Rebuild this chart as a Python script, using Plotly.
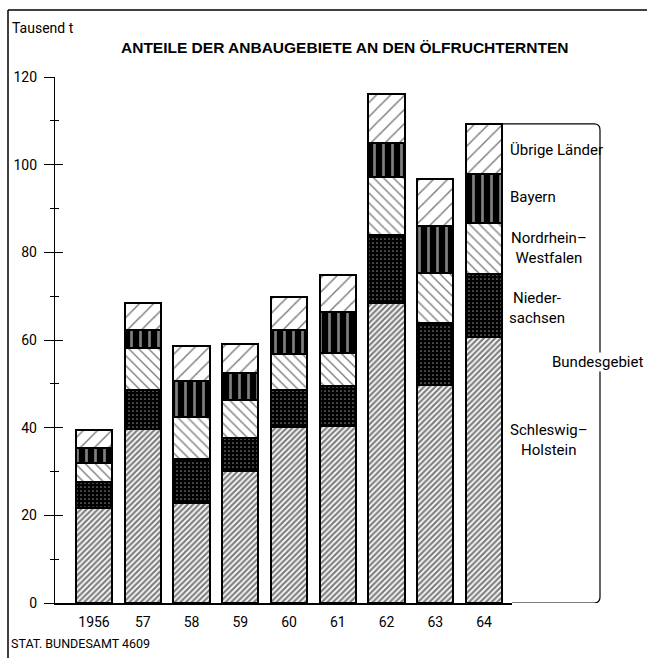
import plotly.graph_objects as go

# DATA (Tausend t)
years = ["1956", "57", "58", "59", "60", "61", "62", "63", "64"]
schleswig = [21.6, 39.6, 22.9, 30.2, 40.2, 40.4, 68.5, 49.7, 60.6]
nieder = [6.1, 9.0, 9.9, 7.4, 8.5, 9.1, 15.5, 14.1, 14.5]
nrw = [4.3, 9.5, 9.7, 8.6, 8.1, 7.5, 13.1, 11.4, 11.5]
bayern = [3.3, 4.2, 8.2, 6.2, 5.5, 9.5, 7.9, 10.9, 11.3]
uebrige = [4.2, 6.2, 8.0, 6.8, 7.4, 8.3, 11.1, 10.6, 11.4]

W, H = 647, 658
L, R, T, B = 55, 135, 77, 55
NARROW = "Roboto, Liberation Sans Narrow, sans-serif"


def px_x(x):
    return (x - L) / (W - L - R)


def px_y(y):
    return (H - B - y) / (H - T - B)


series = [
    ("Schleswig-Holstein", schleswig, dict(color="white", pattern=dict(shape="/", size=4, solidity=0.55, fgcolor="black", bgcolor="white"))),
    ("Niedersachsen", nieder, dict(color="black", pattern=dict(shape=".", size=4, solidity=0.15, fgcolor="white", bgcolor="black"))),
    ("Nordrhein-Westfalen", nrw, dict(color="white", pattern=dict(shape="\\", size=7, solidity=0.2, fgcolor="black", bgcolor="white"))),
    ("Bayern", bayern, dict(color="black", pattern=dict(shape="|", size=9, solidity=0.3, fgcolor="white", bgcolor="black"))),
    ("Übrige Länder", uebrige, dict(color="white", pattern=dict(shape="/", size=10, solidity=0.15, fgcolor="black", bgcolor="white"))),
]

fig = go.Figure()
for name, vals, marker in series:
    fig.add_trace(go.Bar(
        x=years, y=vals, name=name, width=0.74,
        marker=dict(line=dict(color="black", width=2), **marker),
        hovertemplate="%{x}: %{y} Tsd. t<extra>" + name + "</extra>",
    ))

# invisible trace so the crossing tick marks get drawn
fig.add_trace(go.Scatter(x=years, y=schleswig, yaxis="y2", mode="markers",
                         marker=dict(opacity=0), hoverinfo="skip", showlegend=False))

total_64 = sum(s[1][-1] for s in series)
r_y = 6 / 4.383
r_x = 6 / (W - L - R)
x_edge = px_x(600)
bracket = (
    f"M {px_x(503)},{total_64} L {x_edge - r_x},{total_64} "
    f"Q {x_edge},{total_64} {x_edge},{total_64 - r_y} "
    f"L {x_edge},{r_y} Q {x_edge},0 {x_edge - r_x},0 L 1,0"
)

fig.update_layout(
    width=W, height=H,
    margin=dict(l=L, r=R, t=T, b=B),
    paper_bgcolor="white", plot_bgcolor="white",
    barmode="stack", bargap=0, showlegend=False,
    font=dict(family=NARROW, color="black", size=14),
    xaxis=dict(range=[-0.8, 8.574], showline=True, linecolor="black", linewidth=2,
               ticks="", showgrid=False, zeroline=False, tickfont=dict(size=14),
               ticklabelstandoff=5),
    yaxis=dict(range=[0, 120], tickvals=list(range(0, 121, 20)), ticks="outside",
               ticklen=10, tickwidth=1.2, tickcolor="black",
               minor=dict(ticks="outside", ticklen=4, dtick=10, tickcolor="black", tickwidth=1.2),
               showline=True, linecolor="black", linewidth=1.4, showgrid=False,
               zeroline=False, tickfont=dict(size=14), ticklabelstandoff=4),
    yaxis2=dict(range=[0, 120], overlaying="y", side="left", anchor="x",
                tickvals=list(range(0, 121, 20)), ticks="inside", ticklen=8,
                tickwidth=1.2, tickcolor="black",
                minor=dict(ticks="inside", ticklen=4, dtick=10, tickcolor="black", tickwidth=1.2),
                showticklabels=False, showline=False, showgrid=False, zeroline=False),
    shapes=[
        dict(type="path", xref="paper", yref="y", path=bracket,
             line=dict(color="black", width=1.2)),
        dict(type="line", xref="paper", yref="paper", x0=px_x(8), x1=px_x(W), y0=px_y(10), y1=px_y(10),
             line=dict(color="black", width=1.5)),
        dict(type="line", xref="paper", yref="paper", x0=px_x(8), x1=px_x(8), y0=px_y(10), y1=px_y(H),
             line=dict(color="black", width=1.5)),
    ],
)

ann = [
    ("ANTEILE DER ANBAUGEBIETE AN DEN ÖLFRUCHTERNTEN", 120, 47, "left", dict(family="Liberation Sans, Arial, sans-serif", size=15.5, weight="bold"), "left"),
    ("Tausend t", 11, 28, "left", dict(size=14), "left"),
    ("STAT. BUNDESAMT 4609", 10, 643, "left", dict(size=12.5), "left"),
    ("Übrige Länder", 509, 150, "left", dict(size=15), "left"),
    ("Bayern", 509, 197, "left", dict(size=15), "left"),
    ("Nordrhein–<br>Westfalen", 510, 248, "left", dict(size=15), "center"),
    ("Nieder-<br>sachsen", 508, 308, "left", dict(size=15), "center"),
    ("Schleswig–<br>Holstein", 509, 440, "left", dict(size=15), "center"),
    ("Bundesgebiet", 644, 362, "right", dict(size=15), "left"),
]
for text, x, y, xa, font, align in ann:
    fig.add_annotation(text=text, x=px_x(x), y=px_y(y), xref="paper", yref="paper",
                       xanchor=xa, yanchor="middle", showarrow=False, font=font,
                       align=align, bgcolor="white" if text == "Bundesgebiet" else None,
                       borderpad=0)

fig.write_html("out.html", config={"displayModeBar": False},
               post_script="document.body.style.margin='0';")
